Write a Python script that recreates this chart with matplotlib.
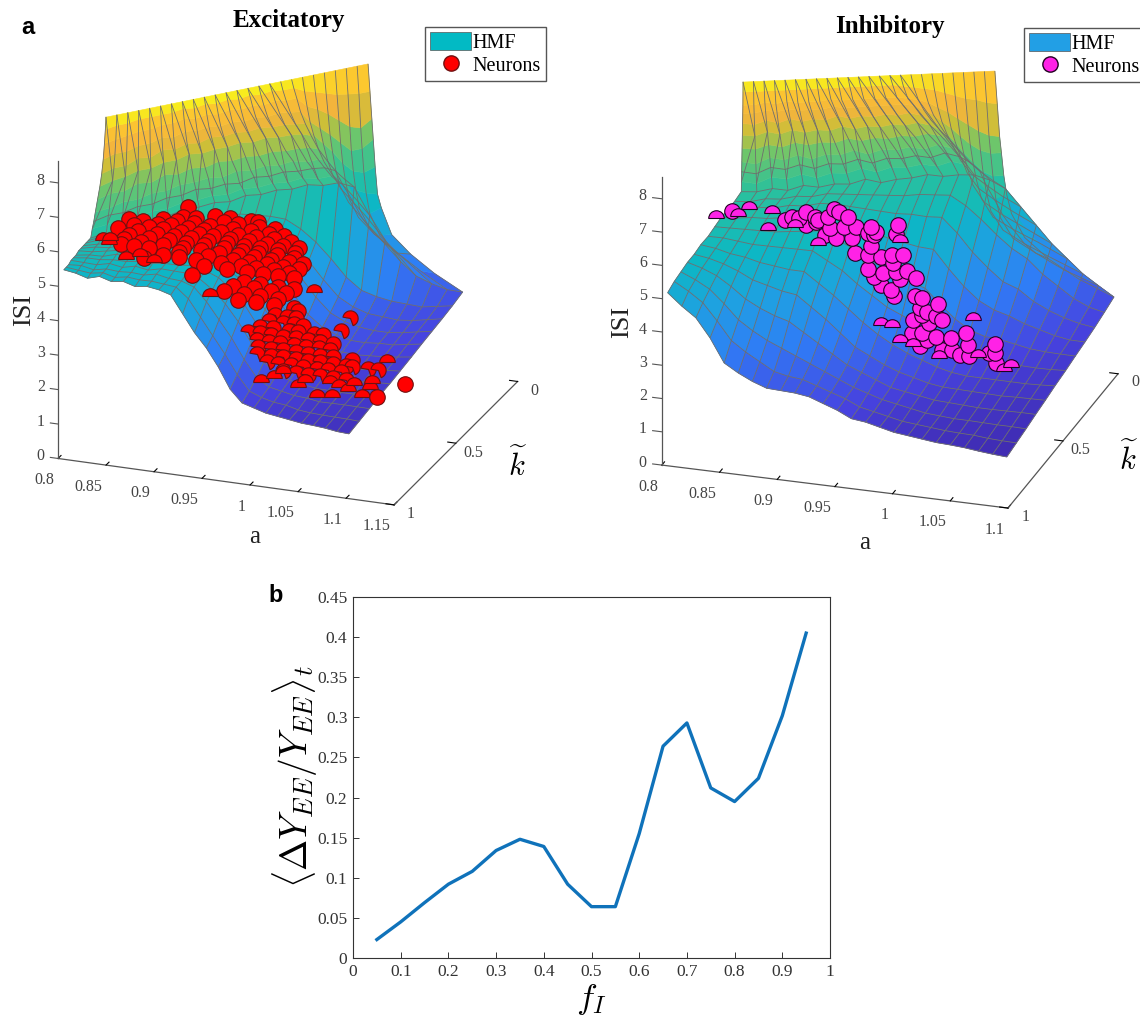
import numpy as np
import matplotlib
matplotlib.use("Agg")
import matplotlib.pyplot as plt
from matplotlib.colors import LinearSegmentedColormap
from matplotlib.lines import Line2D
from matplotlib.patches import Patch
from matplotlib.path import Path

plt.rcParams['font.family'] = ['Liberation Serif', 'DejaVu Sans']
plt.rcParams['mathtext.fontset'] = 'cm'

# bottom panel
f_I = [0.05, 0.1, 0.15, 0.2, 0.25, 0.3, 0.35, 0.4, 0.45, 0.5, 0.55, 0.6, 0.65, 0.7, 0.75, 0.8, 0.85, 0.9, 0.95]
dY = [0.023, 0.045, 0.069, 0.092, 0.108, 0.134, 0.148, 0.139, 0.092, 0.064, 0.064, 0.155, 0.264, 0.293, 0.212, 0.195, 0.224, 0.302, 0.405]

# surface sheet: rows go front -> foot of the wall -> top of the wall
floor_s = [0, 0.09, 0.18, 0.27, 0.36, 0.45, 0.55, 0.64, 0.73, 0.82, 0.91, 1.0]
wall_w = [0.1, 0.2, 0.3, 0.45, 0.6, 0.72, 0.82, 0.9, 0.96, 1.0]
wall_w_right = [0.3, 0.55, 0.75, 0.86, 0.9, 0.925, 0.945, 0.96, 0.98, 1.0]
wall_blend = [0] * 16 + [0.12, 0.3, 0.55, 0.7, 0.85, 0.92, 0.96, 1.0, 1.0]

# excitatory sheet corners (a, k)
e_front_a = (0.806, 1.103)
e_foot_a = (0.822, 1.103)
e_foot_k = (0.906, 0.08)
e_top_a = (0.831, 1.022)
e_top_k = (0.853, 0.216)

e_sheet = [
    [5.5, 5.45, 5.35, 5.45, 5.35, 5.4, 5.3, 5.35, 5.3, 5.2, 4.7, 4.2, 3.8, 3.3, 2.7, 2.35, 2.25, 2.15, 2.1, 2.05, 2.0, 1.98, 1.95, 1.9, 1.88],
    [5.55, 5.5, 5.45, 5.5, 5.4, 5.45, 5.4, 5.4, 5.35, 5.3, 5.0, 4.5, 4.0, 3.5, 2.95, 2.5, 2.35, 2.25, 2.2, 2.1, 2.05, 2.02, 2.0, 1.98, 1.95],
    [5.6, 5.6, 5.5, 5.55, 5.5, 5.5, 5.45, 5.5, 5.4, 5.35, 5.2, 4.8, 4.3, 3.8, 3.2, 2.7, 2.45, 2.35, 2.25, 2.2, 2.12, 2.1, 2.08, 2.05, 2.02],
    [5.7, 5.65, 5.6, 5.65, 5.55, 5.6, 5.5, 5.55, 5.5, 5.45, 5.3, 5.0, 4.6, 4.1, 3.5, 2.95, 2.6, 2.45, 2.35, 2.25, 2.2, 2.15, 2.12, 2.1, 2.1],
    [5.75, 5.75, 5.7, 5.7, 5.65, 5.65, 5.6, 5.6, 5.55, 5.55, 5.4, 5.2, 4.85, 4.4, 3.8, 3.2, 2.8, 2.55, 2.45, 2.35, 2.28, 2.22, 2.2, 2.18, 2.15],
    [5.8, 5.8, 5.75, 5.8, 5.7, 5.75, 5.7, 5.7, 5.65, 5.6, 5.55, 5.35, 5.05, 4.65, 4.1, 3.5, 3.0, 2.7, 2.55, 2.45, 2.35, 2.3, 2.28, 2.25, 2.22],
    [5.9, 5.85, 5.85, 5.85, 5.8, 5.8, 5.8, 5.75, 5.75, 5.7, 5.65, 5.5, 5.25, 4.9, 4.4, 3.8, 3.25, 2.9, 2.65, 2.55, 2.45, 2.4, 2.35, 2.32, 2.3],
    [5.95, 5.95, 5.9, 5.95, 5.9, 5.9, 5.85, 5.85, 5.8, 5.8, 5.75, 5.65, 5.45, 5.15, 4.7, 4.1, 3.5, 3.1, 2.85, 2.65, 2.55, 2.5, 2.42, 2.4, 2.38],
    [6.0, 6.0, 6.0, 6.0, 5.95, 6.0, 5.95, 5.95, 5.9, 5.9, 5.85, 5.8, 5.6, 5.35, 4.95, 4.4, 3.8, 3.3, 3.0, 2.8, 2.65, 2.55, 2.5, 2.48, 2.45],
    [6.05, 6.1, 6.05, 6.1, 6.05, 6.05, 6.05, 6.0, 6.0, 6.0, 5.95, 5.9, 5.8, 5.55, 5.2, 4.7, 4.1, 3.55, 3.2, 2.95, 2.8, 2.65, 2.58, 2.55, 2.52],
    [6.1, 6.15, 6.2, 6.2, 6.15, 6.2, 6.2, 6.2, 6.2, 6.15, 6.2, 6.1, 6.0, 5.85, 5.5, 5.05, 4.5, 3.9, 3.45, 3.2, 3.0, 2.85, 2.7, 2.65, 2.6],
    [6.15, 6.2, 6.3, 6.3, 6.4, 6.4, 6.5, 6.5, 6.55, 6.5, 6.6, 6.55, 6.6, 6.55, 6.6, 6.5, 6.5, 6.3, 5.4, 4.6, 3.9, 3.4, 3.1, 2.85, 2.7],
    [6.4, 6.45, 6.5, 6.5, 6.6, 6.6, 6.7, 6.7, 6.75, 6.7, 6.8, 6.75, 6.8, 6.75, 6.8, 6.7, 6.7, 6.55, 5.9, 5.25, 4.6, 4.2, 3.8, 3.45, 3.3],
    [6.6, 6.7, 6.7, 6.8, 6.8, 6.9, 6.9, 7.0, 6.95, 7.0, 6.95, 7.05, 7.0, 7.05, 7.0, 7.0, 6.95, 6.8, 6.3, 5.75, 5.2, 4.7, 4.35, 4.0, 3.9],
    [6.85, 6.9, 7.0, 7.0, 7.1, 7.1, 7.2, 7.2, 7.25, 7.2, 7.3, 7.25, 7.3, 7.25, 7.3, 7.2, 7.2, 7.1, 6.6, 6.15, 5.7, 5.2, 4.85, 4.55, 4.5],
    [7.2, 7.3, 7.3, 7.45, 7.4, 7.55, 7.5, 7.6, 7.55, 7.65, 7.6, 7.65, 7.6, 7.65, 7.6, 7.6, 7.55, 7.45, 7.0, 6.6, 6.2, 5.75, 5.4, 5.2, 5.3],
    [7.55, 7.65, 7.7, 7.8, 7.8, 7.9, 7.9, 8.0, 7.95, 8.0, 8.0, 8.05, 8.0, 8.05, 8.0, 8.0, 7.95, 7.85, 7.4, 7.05, 6.7, 6.3, 5.95, 5.8, 5.7],
    [7.9, 8.0, 8.0, 8.15, 8.1, 8.25, 8.2, 8.3, 8.25, 8.35, 8.3, 8.35, 8.3, 8.35, 8.3, 8.3, 8.25, 8.2, 7.8, 7.5, 7.2, 6.8, 6.5, 6.4, 6.5],
    [8.3, 8.4, 8.4, 8.5, 8.5, 8.6, 8.55, 8.65, 8.6, 8.65, 8.6, 8.65, 8.6, 8.65, 8.6, 8.65, 8.6, 8.55, 8.2, 7.95, 7.7, 7.4, 7.1, 7.1, 7.3],
    [8.75, 8.8, 8.85, 8.9, 8.9, 8.95, 8.95, 9.0, 8.95, 9.0, 8.95, 9.0, 8.95, 9.0, 8.95, 9.0, 8.95, 8.95, 8.65, 8.5, 8.3, 8.05, 7.8, 7.7, 7.9],
    [9.15, 9.2, 9.2, 9.25, 9.25, 9.25, 9.25, 9.3, 9.25, 9.3, 9.25, 9.3, 9.25, 9.3, 9.25, 9.3, 9.25, 9.25, 9.1, 9.0, 8.9, 8.8, 8.75, 8.7, 8.7],
    [9.5] * 25,
]

# inhibitory sheet corners (a, k)
i_front_a = (0.805, 1.099)
i_foot_a = (0.83, 1.099)
i_foot_k = (0.593, 0.027)
i_top_a = (0.8315, 1.0225)
i_top_k = (0.593, 0.307)

i_sheet = [
    [5.2, 4.85, 4.55, 4.0, 3.3, 3.05, 2.85, 2.7, 2.68, 2.66, 2.6, 2.45, 2.3, 2.1, 2.05, 1.95, 1.85, 1.8, 1.75, 1.7, 1.68, 1.65, 1.6, 1.56, 1.53],
    [5.4, 5.15, 4.85, 4.35, 3.8, 3.5, 3.25, 3.0, 2.9, 2.85, 2.7, 2.55, 2.4, 2.2, 2.1, 2.0, 1.9, 1.85, 1.8, 1.75, 1.72, 1.7, 1.65, 1.62, 1.6],
    [5.55, 5.35, 5.1, 4.7, 4.25, 3.95, 3.7, 3.5, 3.3, 3.1, 2.9, 2.7, 2.5, 2.35, 2.2, 2.1, 2.0, 1.9, 1.85, 1.8, 1.78, 1.75, 1.72, 1.7, 1.67],
    [5.7, 5.55, 5.35, 5.05, 4.7, 4.45, 4.25, 4.1, 3.8, 3.5, 3.2, 2.9, 2.7, 2.5, 2.3, 2.2, 2.1, 2.0, 1.95, 1.9, 1.85, 1.82, 1.8, 1.78, 1.75],
    [5.8, 5.7, 5.55, 5.35, 5.1, 4.95, 4.8, 4.7, 4.35, 4.0, 3.6, 3.2, 2.95, 2.7, 2.5, 2.35, 2.2, 2.1, 2.05, 2.0, 1.95, 1.9, 1.88, 1.85, 1.82],
    [5.95, 5.85, 5.7, 5.6, 5.45, 5.35, 5.25, 5.2, 4.85, 4.5, 4.1, 3.7, 3.35, 3.05, 2.8, 2.6, 2.4, 2.25, 2.15, 2.1, 2.05, 2.0, 1.95, 1.92, 1.9],
    [6.05, 6.0, 5.9, 5.8, 5.75, 5.7, 5.65, 5.6, 5.3, 5.0, 4.6, 4.25, 3.9, 3.65, 3.4, 3.05, 2.75, 2.5, 2.35, 2.3, 2.2, 2.12, 2.05, 2.0, 1.97],
    [6.2, 6.15, 6.1, 6.05, 6.0, 6.0, 6.0, 6.0, 5.75, 5.5, 5.2, 4.9, 4.65, 4.4, 4.2, 3.7, 3.25, 2.9, 2.7, 2.6, 2.45, 2.3, 2.2, 2.12, 2.05],
    [6.35, 6.3, 6.3, 6.25, 6.25, 6.25, 6.25, 6.25, 6.05, 5.9, 5.7, 5.5, 5.35, 5.2, 5.1, 4.5, 3.95, 3.5, 3.2, 3.0, 2.75, 2.55, 2.35, 2.2, 2.12],
    [6.45, 6.4, 6.45, 6.4, 6.45, 6.4, 6.45, 6.4, 6.3, 6.2, 6.1, 6.0, 5.95, 5.85, 5.8, 5.3, 4.7, 4.2, 3.75, 3.5, 3.1, 2.8, 2.55, 2.35, 2.2],
    [6.55, 6.5, 6.55, 6.5, 6.55, 6.5, 6.55, 6.5, 6.45, 6.4, 6.35, 6.3, 6.3, 6.25, 6.2, 5.85, 5.4, 4.9, 4.45, 4.1, 3.6, 3.2, 2.8, 2.5, 2.3],
    [6.7, 6.65, 6.7, 6.6, 6.7, 6.6, 6.65, 6.6, 6.7, 6.55, 6.6, 6.6, 6.65, 6.55, 6.55, 6.5, 6.3, 6.0, 5.4, 4.8, 4.2, 3.7, 3.2, 2.8, 2.41],
    [7.0, 6.9, 7.05, 6.95, 7.05, 6.9, 7.0, 6.95, 7.05, 6.9, 7.0, 6.95, 7.0, 6.9, 7.0, 6.85, 6.65, 6.35, 5.85, 5.35, 4.85, 4.4, 3.9, 3.5, 3.2],
    [7.3, 7.2, 7.35, 7.25, 7.35, 7.2, 7.3, 7.25, 7.35, 7.2, 7.3, 7.25, 7.3, 7.2, 7.3, 7.15, 6.95, 6.7, 6.3, 5.85, 5.4, 4.95, 4.5, 4.2, 4.0],
    [7.6, 7.5, 7.65, 7.55, 7.65, 7.5, 7.6, 7.55, 7.65, 7.5, 7.6, 7.55, 7.6, 7.5, 7.6, 7.45, 7.3, 7.05, 6.7, 6.3, 5.9, 5.45, 5.05, 4.8, 4.8],
    [8.0, 7.95, 8.05, 7.95, 8.05, 7.95, 8.0, 7.95, 8.05, 7.95, 8.0, 7.95, 8.0, 7.95, 8.0, 7.9, 7.75, 7.5, 7.2, 6.85, 6.5, 6.1, 5.7, 5.5, 5.6],
    [8.4, 8.35, 8.45, 8.35, 8.45, 8.35, 8.4, 8.35, 8.45, 8.35, 8.4, 8.35, 8.4, 8.35, 8.4, 8.3, 8.15, 7.95, 7.7, 7.4, 7.05, 6.7, 6.35, 6.1, 6.2],
    [8.75, 8.7, 8.8, 8.7, 8.8, 8.7, 8.75, 8.7, 8.8, 8.7, 8.75, 8.7, 8.75, 8.7, 8.75, 8.65, 8.5, 8.35, 8.1, 7.85, 7.55, 7.25, 6.95, 6.8, 6.8],
    [9.05, 9.05, 9.1, 9.05, 9.1, 9.05, 9.05, 9.05, 9.1, 9.05, 9.05, 9.05, 9.05, 9.05, 9.05, 9.0, 8.85, 8.7, 8.5, 8.3, 8.05, 7.8, 7.6, 7.5, 7.5],
    [9.3, 9.3, 9.35, 9.3, 9.35, 9.3, 9.3, 9.3, 9.35, 9.3, 9.3, 9.3, 9.3, 9.3, 9.3, 9.25, 9.2, 9.1, 8.95, 8.8, 8.6, 8.4, 8.2, 8.05, 8.0],
    [9.7, 9.7, 9.7, 9.7, 9.7, 9.7, 9.7, 9.7, 9.7, 9.7, 9.7, 9.7, 9.7, 9.7, 9.7, 9.65, 9.6, 9.55, 9.5, 9.4, 9.3, 9.2, 9.15, 9.05, 9.0],
    [10.0] * 25,
]

# excitatory neurons, upper cluster: one ISI per row of a values
e_up_k = 0.7
e_up_isi = [6.6, 6.45, 6.3, 6.15, 6.0, 5.85, 5.7, 5.55, 5.4, 5.25, 5.1, 4.95, 4.65, 4.5, 4.3, 4.1]
e_up_a = [
    [0.897],
    [0.925, 0.94, 0.962, 0.97],
    [0.892, 0.905, 0.934, 0.949, 0.971, 0.987],
    [0.871, 0.885, 0.903, 0.92, 0.944, 0.962, 0.981, 0.997],
    [0.835, 0.85, 0.866, 0.879, 0.897, 0.913, 0.931, 0.949, 0.968, 0.986, 1.004],
    [0.84, 0.856, 0.871, 0.889, 0.908, 0.923, 0.941, 0.96, 0.979, 0.996, 1.012],
    [0.824, 0.845, 0.864, 0.882, 0.9, 0.918, 0.937, 0.955, 0.972, 0.991, 1.008],
    [0.835, 0.856, 0.877, 0.895, 0.913, 0.934, 0.953, 0.97, 0.989, 1.007],
    [0.83, 0.848, 0.871, 0.892, 0.91, 0.929, 0.949, 0.965, 0.983, 1.002, 1.017],
    [0.827, 0.84, 0.856, 0.887, 0.918, 0.944, 0.96, 0.979, 0.996, 1.012],
    [0.871, 0.887, 0.905, 0.931, 0.952, 0.968, 0.986, 1.002],
    [0.851, 0.913, 0.937, 0.958, 0.975, 0.991, 1.007],
    [0.901, 0.955, 0.972, 0.991, 1.007],
    [0.944, 0.965, 0.983, 0.999],
    [0.934, 0.955, 0.972, 0.991],
    [0.949, 0.968, 0.986, 1.007],
]
e_up_half_a = [0.808, 0.816, 0.814, 0.832, 0.847, 0.861, 0.92, 1.028]
e_up_half_isi = [5.29, 5.32, 5.2, 4.85, 4.97, 4.85, 4.1, 4.65]

# excitatory neurons, lower cluster, mostly cut by the sheet
e_low_k = 0.5
e_low_isi = [3.2, 3.0, 2.8, 2.6, 2.4, 2.2, 2.0, 1.8, 1.6, 1.4]
e_low_a = [
    [1.04, 0.986],
    [0.983, 0.974, 0.962],
    [1.03, 0.991, 0.981, 0.97, 0.955],
    [1.012, 1.002, 0.986, 0.976, 0.96, 0.946],
    [1.022, 1.009, 0.996, 0.984, 0.97, 0.957, 0.946, 0.934],
    [1.019, 1.007, 0.994, 0.981, 0.967, 0.955, 0.943],
    [1.042, 1.022, 1.009, 0.996, 0.984, 0.97, 0.957, 0.944],
    [1.069, 1.059, 1.042, 1.036, 1.022, 1.009, 0.996, 0.983, 0.97, 0.957, 0.943],
    [1.03, 1.017, 1.005, 0.991, 0.978, 0.965, 0.953],
    [1.036, 1.022, 1.009, 0.996, 0.984, 0.97],
]
e_low_edge_a = [1.078, 0.947, 0.961, 0.97, 0.993, 0.986, 1.019, 1.028, 1.044, 1.063, 1.061, 1.038, 1.005, 1.021, 1.052]
e_low_edge_isi = [2.09, 0.99, 1.16, 1.35, 1.16, 0.99, 1.23, 1.15, 1.27, 1.42, 1.24, 1.07, 0.78, 0.85, 0.95]
e_low_full_a = [1.068, 1.097]
e_low_full_isi = [1.03, 1.52]

# inhibitory neurons
i_k = 0.7
i_a = [0.832, 0.878, 0.884, 0.89, 0.896, 0.904, 0.907, 0.896, 0.905, 0.915, 0.921, 0.925, 0.933, 0.917, 0.929, 0.94,
       0.913, 0.922, 0.936, 0.939, 0.953, 0.957, 0.955, 0.953, 0.95, 0.976, 0.974, 0.95, 0.961, 0.971, 0.98, 0.95,
       0.963, 0.972, 0.974, 0.984, 0.978, 0.992, 0.955, 0.961, 0.97, 0.973, 0.991, 0.997, 1.011, 0.995, 1.001, 1.009,
       0.997, 0.989, 1.014, 1.003, 0.988, 0.997, 1.035, 1.037, 1.022, 1.009, 1.001, 0.995, 1.014, 1.023, 1.03, 1.038,
       1.055, 1.06, 1.06, 1.061]
i_isi = [6.56, 6.49, 6.6, 6.6, 6.8, 6.68, 6.61, 6.41, 6.54, 6.73, 7.0, 6.93, 6.81, 6.41, 6.5, 6.54,
         6.19, 6.13, 6.19, 5.76, 6.6, 6.47, 6.36, 6.03, 6.4, 6.76, 6.48, 5.74, 5.73, 5.83, 5.87, 5.32,
         5.26, 5.6, 5.34, 5.41, 5.14, 5.23, 5.1, 4.89, 4.78, 4.61, 4.69, 4.65, 4.53, 4.35, 4.25, 4.17,
         4.14, 3.96, 4.07, 3.93, 3.56, 3.6, 3.77, 3.41, 3.56, 3.53, 3.41, 3.21, 3.17, 3.2, 3.08, 3.09,
         3.25, 3.54, 3.27, 2.98]
i_half_a = [0.818, 0.837, 0.847, 0.867, 0.863, 0.887, 0.907, 0.978, 1.041, 0.989, 0.978, 0.971, 0.961, 1.012, 1.045, 1.074, 1.068]
i_half_isi = [6.29, 6.43, 6.68, 6.65, 6.12, 6.31, 5.86, 6.25, 4.18, 3.18, 3.25, 3.67, 3.69, 2.92, 3.09, 2.91, 2.77]

z_ticks = [0, 1, 2, 3, 4, 5, 6, 7, 8]

parula_stops = [(0, '#3e26a8'), (0.1, '#4743e0'), (0.25, '#2f7df6'), (0.38, '#1fa0e2'), (0.5, '#0cb8c4'), (0.62, '#2cc19a'),
                (0.74, '#6cc66c'), (0.82, '#c8c038'), (0.88, '#f4b43c'), (0.95, '#fcc530'), (0.985, '#f8e820'), (1, '#f9fb15')]
parula = LinearSegmentedColormap.from_list('parula', parula_stops)

half_top = Path.wedge(0, 180)
half_side = Path.wedge(-70, 170)
mesh_color = '#6e6e6e'


def sheet(isi, front_a, foot_a, foot_k, top_a, top_k):
    isi = np.array(isi)
    u = np.linspace(0, 1, isi.shape[1])
    fa = front_a[0] + (front_a[1] - front_a[0]) * u
    fta = foot_a[0] + (foot_a[1] - foot_a[0]) * u
    ftk = foot_k[0] + (foot_k[1] - foot_k[0]) * u
    ta = top_a[0] + (top_a[1] - top_a[0]) * u
    tk = top_k[0] + (top_k[1] - top_k[0]) * u
    s = np.array(floor_s)[:, None]
    w = np.array(wall_w)[:, None]
    w = w + (np.array(wall_w_right)[:, None] - w) * np.array(wall_blend)
    A = np.vstack([fa + (fta - fa) * s, fta + (ta - fta) * w])
    K = np.vstack([1 + (ftk - 1) * s, ftk + (tk - ftk) * w])
    return A, K, isi


def draw_sheet(ax, A, K, Z, vmin, vmax):
    Zm = (Z[:-1, :-1] + Z[1:, :-1] + Z[:-1, 1:] + Z[1:, 1:]) / 4
    fc = parula((Zm - vmin) / (vmax - vmin))
    ax.plot_surface(A, K, Z, rstride=1, cstride=1, facecolors=fc, linewidth=0.4, shade=False, zorder=1)
    rows = list(range(12)) + [13]
    ax.plot_wireframe(A[rows], K[rows], Z[rows], rstride=1, cstride=0, color=mesh_color, linewidth=0.6, zorder=2)
    ax.plot_wireframe(A, K, Z, rstride=0, cstride=1, color=mesh_color, linewidth=0.6, zorder=2)
    # slanted mesh lines on the wall
    for i in range(16):
        rr = [21, 16, 12]
        cc = [i, i + 1, i]
        ax.plot(A[rr, cc], K[rr, cc], Z[rr, cc], color=mesh_color, lw=0.6, zorder=2)


def setup_3d(ax, xticks, xlabels, xlim, zmax, tick_da, label_da):
    ax.set_xlim(*xlim)
    ax.set_ylim(1, 0)
    ax.set_zlim(0, zmax)
    ax.set_xticks(xticks)
    ax.set_xticklabels(xlabels, ha='right')
    ax.set_yticks([0, 0.5, 1])
    ax.set_yticklabels(['0', '0.5', '1'], va='bottom')
    ax.set_zticks([])
    ax.grid(False)
    ax.patch.set_alpha(0)
    for axis in (ax.xaxis, ax.yaxis, ax.zaxis):
        axis.set_pane_color((1, 1, 1, 0))
        axis.pane.set_edgecolor((1, 1, 1, 0))
        axis.line.set_color('#555555')
        axis.line.set_linewidth(0.9)
        axis._axinfo['tick']['inward_factor'] = 0.0
        axis._axinfo['tick']['outward_factor'] = 0.3
        axis._axinfo['tick']['color'] = '#555555'
        axis._axinfo['tick']['linewidth'] = {True: 0.8, False: 0.5}
    ax.zaxis.line.set_color((1, 1, 1, 0))
    ax.tick_params(axis='x', labelsize=11.5, labelcolor='#444444', pad=-1)
    ax.tick_params(axis='y', labelsize=11.5, labelcolor='#444444', pad=3)
    # the ISI axis stands on the left corner of the box
    ax.plot([xlim[0], xlim[0]], [1, 1], [0, zmax], color='#555555', lw=0.9, zorder=3)
    for z in z_ticks:
        ax.plot([xlim[0], xlim[0] - tick_da], [1, 1], [z, z], color='#555555', lw=0.8, zorder=3)
        ax.text(xlim[0] - label_da, 1, z, str(z), ha='center', va='center', fontsize=11.5, color='#444444')


def neurons(ax, a, k, isi, color, edge, marker='o'):
    ax.scatter(a, [k] * len(a), isi, s=125, c=color, edgecolors=edge, linewidths=0.8,
               marker=marker, depthshade=False, zorder=5)


W, H = 1140, 1018
fig = plt.figure(figsize=(W / 100, H / 100), dpi=100)

# Excitatory
ax1 = fig.add_axes([-10 / W, 449 / H, 580 / W, 580 / H], projection='3d', proj_type='ortho', computed_zorder=False)
ax1.view_init(elev=21.8, azim=-69.6)
ax1.set_box_aspect((359, 355, 321))
A, K, Z = sheet(e_sheet, e_front_a, e_foot_a, e_foot_k, e_top_a, e_top_k)
draw_sheet(ax1, A, K, Z, 1.6, 9.5)
for isi, row in zip(e_up_isi, e_up_a):
    neurons(ax1, row, e_up_k, [isi] * len(row), 'red', '#701010')
neurons(ax1, e_up_half_a, e_up_k, e_up_half_isi, 'red', '#701010', half_top)
for isi, row in zip(e_low_isi, e_low_a):
    neurons(ax1, row, e_low_k, [isi] * len(row), 'red', '#701010', half_side)
neurons(ax1, e_low_edge_a, e_low_k, e_low_edge_isi, 'red', '#701010', half_top)
neurons(ax1, e_low_full_a, e_low_k, e_low_full_isi, 'red', '#701010')
setup_3d(ax1, [0.8, 0.85, 0.9, 0.95, 1, 1.05, 1.1, 1.15], ['0.8', '0.85', '0.9', '0.95', '1', '1.05', '1.1', '1.15'],
         (0.8, 1.15), 8.64, 0.008, 0.018)

# Inhibitory
ax2 = fig.add_axes([590.6 / W, 443 / H, 583 / W, 583 / H], projection='3d', proj_type='ortho', computed_zorder=False)
ax2.view_init(elev=22.9, azim=-72.3)
ax2.set_box_aspect((363, 362, 312))
A, K, Z = sheet(i_sheet, i_front_a, i_foot_a, i_foot_k, i_top_a, i_top_k)
draw_sheet(ax2, A, K, Z, 1.4, 10)
neurons(ax2, i_a, i_k, i_isi, '#ff22e6', '#200020')
neurons(ax2, i_half_a, i_k, i_half_isi, '#ff22e6', '#200020', half_top)
setup_3d(ax2, [0.8, 0.85, 0.9, 0.95, 1, 1.05, 1.1], ['0.8', '0.85', '0.9', '0.95', '1', '1.05', '1.1'],
         (0.8, 1.1), 8.64, 0.008, 0.0165)

# axis names and titles
fig.text(289 / W, 1 - 21 / H, 'Excitatory', ha='center', va='center', fontsize=18, fontweight='bold')
fig.text(890 / W, 1 - 26 / H, 'Inhibitory', ha='center', va='center', fontsize=18, fontweight='bold')
fig.text(28 / W, 1 - 27 / H, 'a', ha='center', va='center', fontsize=17, fontweight='bold', family='Liberation Sans')
fig.text(276 / W, 1 - 595 / H, 'b', ha='center', va='center', fontsize=17, fontweight='bold', family='Liberation Sans')
fig.text(24 / W, 1 - 310 / H, 'ISI', rotation=90, ha='center', va='center', fontsize=19, color='#222222')
fig.text(622 / W, 1 - 322 / H, 'ISI', rotation=90, ha='center', va='center', fontsize=19, color='#222222')
fig.text(255 / W, 1 - 537 / H, 'a', ha='center', va='center', fontsize=18, color='#222222')
fig.text(865 / W, 1 - 543 / H, 'a', ha='center', va='center', fontsize=18, color='#222222')
fig.text(518 / W, 1 - 466 / H, r'$\widetilde{k}$', ha='center', va='center', fontsize=22)
fig.text(1129 / W, 1 - 460 / H, r'$\widetilde{k}$', ha='center', va='center', fontsize=22)

legend_style = dict(loc='upper left', borderaxespad=0, fancybox=False, framealpha=1, edgecolor='#555555', fontsize=14.5,
                    handlelength=2.05, handleheight=0.98, labelspacing=0.12, borderpad=0.25, handletextpad=0.08)
fig.legend(handles=[Patch(facecolor='#02bac4', edgecolor='#555555', linewidth=0.5, label='HMF'),
                    Line2D([], [], marker='o', ls='', ms=11, mfc='red', mec='#701010', label='Neurons')],
           bbox_to_anchor=(425 / W, 1 - 27 / H), **legend_style)
fig.legend(handles=[Patch(facecolor='#229fe5', edgecolor='#555555', linewidth=0.5, label='HMF'),
                    Line2D([], [], marker='o', ls='', ms=11, mfc='#ff22e6', mec='#200020', label='Neurons')],
           bbox_to_anchor=(1024 / W, 1 - 28 / H), **legend_style)

# bottom line plot
ax3 = fig.add_axes([353 / W, (H - 958) / H, 477 / W, 361 / H])
ax3.plot(f_I, dY, color='#0f72ba', lw=2.4)
ax3.set_xlim(0, 1)
ax3.set_ylim(0, 0.45)
ax3.set_xticks(np.arange(0, 1.01, 0.1))
ax3.set_xticklabels(['0', '0.1', '0.2', '0.3', '0.4', '0.5', '0.6', '0.7', '0.8', '0.9', '1'])
ax3.set_yticks(np.arange(0, 0.46, 0.05))
ax3.set_yticklabels(['0', '0.05', '0.1', '0.15', '0.2', '0.25', '0.3', '0.35', '0.4', '0.45'])
ax3.tick_params(direction='in', length=4, width=0.7, labelsize=12.5, colors='#333333', pad=4)
for spine in ax3.spines.values():
    spine.set_linewidth(0.8)
    spine.set_color('#333333')
ax3.set_xlabel(r'$f_I$', fontsize=25, labelpad=2)
ax3.set_ylabel(r'$\langle\Delta Y_{EE}/Y_{EE}\rangle_t$', fontsize=27)
ax3.yaxis.set_label_coords(-0.07, 0.504)

fig.savefig('out.png', dpi=100)
